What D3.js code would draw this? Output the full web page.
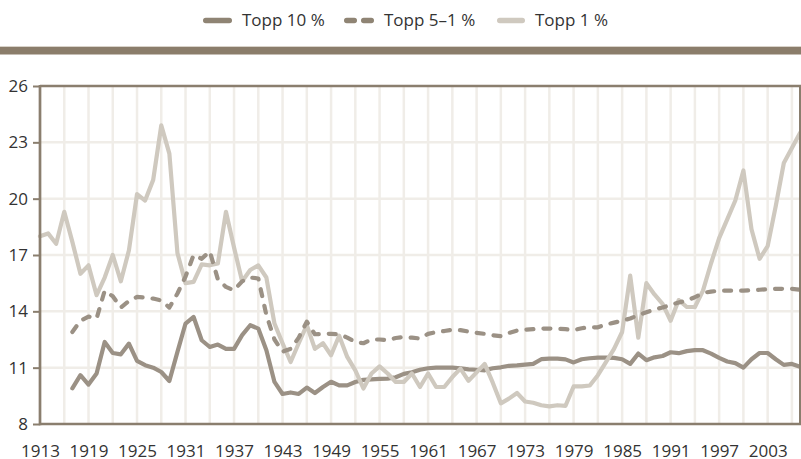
<!DOCTYPE html>
<html>
<head>
<meta charset="utf-8">
<script src="https://cdn.jsdelivr.net/npm/d3@7"></script>
<style>
  html, body { margin: 0; padding: 0; background: #ffffff; }
  svg { display: block; }
  text { font-family: "Open Sans", "DejaVu Sans", sans-serif; fill: #333333; }
</style>
</head>
<body>
<svg id="chart" width="801" height="459"></svg>
<script>
// ---- Data ----
const seriesNames = ["Topp 10 %", "Topp 5–1 %", "Topp 1 %"];

const yearsTop1 = d3.range(1913, 2008);
const top1 = [
  18.0, 18.15, 17.6, 19.3, 17.7, 16.0, 16.45, 14.86, 15.8, 17.0,
  15.6, 17.25, 20.24, 19.9, 21.0, 23.9, 22.4, 17.1, 15.5, 15.57,
  16.5, 16.45, 16.55, 19.3, 17.4, 15.6, 16.2, 16.45, 15.8, 13.35,
  12.3, 11.3, 12.3, 13.26, 12.0, 12.3, 11.66, 12.7, 11.57, 10.86,
  9.89, 10.69, 11.07, 10.69, 10.24, 10.24, 10.69, 9.97, 10.69, 9.97,
  9.97, 10.5, 10.95, 10.3, 10.75, 11.2, 10.2, 9.1, 9.35, 9.65,
  9.2, 9.13, 9.0, 8.94, 9.0, 8.97, 10.0, 10.0, 10.05, 10.6,
  11.3, 12.0, 12.9, 15.9, 12.6, 15.5, 14.9, 14.4, 13.5, 14.6,
  14.23, 14.23, 15.1, 16.56, 17.9, 18.9, 19.9, 21.5, 18.37, 16.8,
  17.47, 19.6, 21.9, 22.7, 23.5
];

const yearsTop10 = d3.range(1917, 2008);
const top10 = [
  9.9, 10.6, 10.1, 10.69, 12.37, 11.78, 11.71, 12.28, 11.36, 11.13,
  11.0, 10.77, 10.29, 11.84, 13.35, 13.7, 12.46, 12.1, 12.23, 12.0,
  12.0, 12.73, 13.26, 13.08, 11.93, 10.24, 9.6, 9.68, 9.6, 9.94,
  9.65, 9.97, 10.25, 10.06, 10.06, 10.24, 10.35, 10.38, 10.4, 10.42,
  10.49, 10.67, 10.75, 10.89, 10.97, 11.0, 11.0, 11.0, 10.97, 10.91,
  10.89, 10.86, 10.97, 11.02, 11.1, 11.12, 11.16, 11.2, 11.45, 11.48,
  11.48, 11.44, 11.28, 11.45, 11.5, 11.53, 11.53, 11.52, 11.45, 11.2,
  11.75, 11.4, 11.55, 11.62, 11.82, 11.77, 11.88, 11.93, 11.93, 11.75,
  11.52, 11.33, 11.24, 11.0, 11.45, 11.78, 11.78, 11.45, 11.15, 11.2,
  11.05
];

const yearsTop51 = d3.range(1917, 2008);
const top51 = [
  12.9, 13.5, 13.72, 13.62, 15.1, 14.8, 14.2, 14.55, 14.77, 14.73,
  14.68, 14.58, 14.2, 14.95, 15.85, 17.0, 16.8, 17.2, 15.7, 15.3,
  15.12, 15.6, 15.8, 15.75, 13.8, 12.5, 11.85, 12.0, 12.6, 13.45,
  12.78, 12.8, 12.8, 12.78, 12.6, 12.37, 12.3, 12.5, 12.5, 12.46,
  12.58, 12.63, 12.6, 12.55, 12.8, 12.9, 12.95, 13.02, 13.0, 12.92,
  12.85, 12.8, 12.72, 12.68, 12.85, 12.98, 13.02, 13.05, 13.08, 13.08,
  13.08, 13.05, 13.0, 13.1, 13.15, 13.15, 13.3, 13.4, 13.5, 13.62,
  13.8, 13.95, 14.1, 14.2, 14.35, 14.47, 14.58, 14.75, 14.98, 15.05,
  15.1, 15.1, 15.1, 15.1, 15.12, 15.15, 15.18, 15.2, 15.2, 15.2,
  15.15
];

const yTicks = [8, 11, 14, 17, 20, 23, 26];
const xLabelYears = d3.range(1913, 2004, 6);
const xGridYears = d3.range(1913, 2008, 3);

// ---- Layout ----
const svg = d3.select("#chart");
const W = 801, H = 459;
const mLeft = 40, mRight = 800, mTop = 86, mBottom = 424;

svg.append("rect").attr("width", W).attr("height", H).attr("fill", "#ffffff");

const x = d3.scaleLinear().domain([1913, 2007]).range([mLeft, mRight]);
const y = d3.scaleLinear().domain([8, 26]).range([mBottom, mTop]);

const darkCol = "#9b9185";
const legendDark = "#8f8474";
const lightCol = "#cfc9bf";
const frameCol = "#8a7e6e";
const gridCol = "#f0ede8";
const fontFam = '"Open Sans", "DejaVu Sans", sans-serif';

// header band
svg.append("rect").attr("x", 0).attr("y", 46).attr("width", W).attr("height", 1)
  .attr("fill", "#d9d3ca");
svg.append("rect").attr("x", 0).attr("y", 47).attr("width", W).attr("height", 7.5)
  .attr("fill", "#8b7d6b");

// grid
const grid = svg.append("g");
grid.selectAll("line.v").data(xGridYears.filter(d => d > 1913)).enter().append("line")
  .attr("x1", d => x(d)).attr("x2", d => x(d))
  .attr("y1", mTop).attr("y2", mBottom)
  .attr("stroke", gridCol).attr("stroke-width", 2.5);
grid.selectAll("line.h").data(yTicks.filter(d => d > 8 && d < 26)).enter().append("line")
  .attr("x1", mLeft).attr("x2", mRight)
  .attr("y1", d => y(d)).attr("y2", d => y(d))
  .attr("stroke", gridCol).attr("stroke-width", 2.5);

// axes
const yAxis = d3.axisLeft(y).tickValues(yTicks).tickSize(7).tickPadding(5).tickFormat(d3.format("d"));
const gy = svg.append("g").attr("transform", `translate(${mLeft},0)`).call(yAxis);
gy.select(".domain").remove();
gy.selectAll(".tick line").attr("stroke", frameCol).attr("stroke-width", 2);
gy.selectAll(".tick text").attr("font-size", 17).attr("fill", "#333")
  .style("font-family", fontFam);

const xAxis = d3.axisBottom(x).tickValues(xLabelYears).tickSize(0).tickPadding(21).tickFormat(d3.format("d"));
const gx = svg.append("g").attr("transform", `translate(0,${mBottom})`).call(xAxis);
gx.select(".domain").remove();
gx.selectAll(".tick text").attr("font-size", 17).attr("fill", "#333")
  .style("font-family", fontFam);

// lines
const line = d3.line().x(d => x(d[0])).y(d => y(d[1])).curve(d3.curveLinear);
const zip = (ys, vs) => ys.map((yr, i) => [yr, vs[i]]);

svg.append("path").datum(zip(yearsTop10, top10)).attr("d", line)
  .attr("fill", "none").attr("stroke", darkCol).attr("stroke-width", 4.2)
  .attr("stroke-linejoin", "round").attr("stroke-linecap", "round");
svg.append("path").datum(zip(yearsTop1, top1)).attr("d", line)
  .attr("fill", "none").attr("stroke", lightCol).attr("stroke-width", 4.2)
  .attr("stroke-linejoin", "round").attr("stroke-linecap", "round");
svg.append("path").datum(zip(yearsTop51, top51)).attr("d", line)
  .attr("fill", "none").attr("stroke", darkCol).attr("stroke-width", 4.2)
  .attr("stroke-dasharray", "7,10")
  .attr("stroke-linejoin", "round").attr("stroke-linecap", "round");

// frame
const frame = svg.append("g").attr("stroke", frameCol).attr("fill", "none");
frame.append("line").attr("x1", mLeft).attr("x2", mLeft).attr("y1", mTop - 1).attr("y2", mBottom + 1.3).attr("stroke-width", 2.7);
frame.append("line").attr("x1", mLeft).attr("x2", mRight + 1).attr("y1", mBottom).attr("y2", mBottom).attr("stroke-width", 2.7);
frame.append("line").attr("x1", mLeft).attr("x2", mRight + 1).attr("y1", mTop).attr("y2", mTop).attr("stroke-width", 2.5);
frame.append("line").attr("x1", mRight).attr("x2", mRight).attr("y1", mTop).attr("y2", mBottom).attr("stroke-width", 2);

// legend
const legendItems = [
  { name: seriesNames[0], sx: 203, ex: 232, tx: 242, col: legendDark, dash: null },
  { name: seriesNames[1], sx: 344, ex: 374, tx: 384, col: legendDark, dash: "7.5,9.5" },
  { name: seriesNames[2], sx: 497, ex: 525, tx: 535, col: lightCol, dash: null }
];
const lg = svg.append("g");
legendItems.forEach(it => {
  const l = lg.append("line")
    .attr("x1", it.sx + 2.75).attr("x2", it.ex - 2.75).attr("y1", 20.5).attr("y2", 20.5)
    .attr("stroke", it.col).attr("stroke-width", 5.5).attr("stroke-linecap", "round");
  if (it.dash) l.attr("stroke-dasharray", it.dash);
  lg.append("text").attr("x", it.tx).attr("y", 20.5).attr("dy", "0.35em")
    .attr("font-size", 17).style("font-family", fontFam).text(it.name);
});
</script>
</body>
</html>
